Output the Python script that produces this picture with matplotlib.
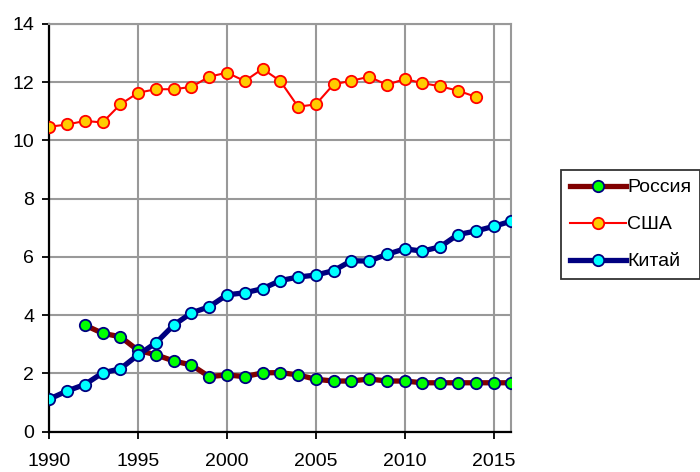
import matplotlib
matplotlib.use("Agg")
import matplotlib.pyplot as plt

plt.rcParams['font.family'] = ['Liberation Sans', 'DejaVu Sans']

years_russia = list(range(1992, 2017))
russia = [3.66, 3.38, 3.26, 2.79, 2.64, 2.43, 2.29, 1.89, 1.95, 1.89, 2.02,
          2.03, 1.95, 1.80, 1.74, 1.74, 1.81, 1.74, 1.74, 1.68, 1.68, 1.68,
          1.68, 1.68, 1.68]

years_usa = list(range(1990, 2015))
usa = [10.47, 10.55, 10.67, 10.62, 11.24, 11.64, 11.76, 11.76, 11.84, 12.19,
       12.33, 12.04, 12.46, 12.04, 11.16, 11.24, 11.93, 12.05, 12.19, 11.91,
       12.11, 11.97, 11.86, 11.71, 11.50]

years_china = list(range(1990, 2017))
china = [1.12, 1.40, 1.62, 2.02, 2.16, 2.64, 3.05, 3.66, 4.08, 4.29, 4.70,
         4.77, 4.91, 5.19, 5.31, 5.38, 5.53, 5.87, 5.86, 6.09, 6.28, 6.20,
         6.35, 6.77, 6.89, 7.05, 7.23]

labels = ['Россия', 'США', 'Китай']
x_ticks = [1990, 1995, 2000, 2005, 2010, 2015]
y_ticks = [0, 2, 4, 6, 8, 10, 12, 14]

fig = plt.figure(figsize=(7.0, 4.72), dpi=100)
ax = fig.add_axes([49.3 / 700, 1 - 431.7 / 472, (511.3 - 49.3) / 700, (431.7 - 24) / 472])

grid_color = '#999999'
ms = 8.2
ax.plot(years_russia, russia, color='#800000', lw=3.8, marker='o', ms=ms,
        mfc='#00FF00', mec='#000080', mew=1.3, label=labels[0], zorder=3)
ax.plot(years_usa, usa, color='#FF0000', lw=1.5, marker='o', ms=ms,
        mfc='#FFCC00', mec='#FF0000', mew=1.3, label=labels[1], zorder=3)
ax.plot(years_china, china, color='#000080', lw=3.8, marker='o', ms=ms,
        mfc='#00FFFF', mec='#000080', mew=1.3, label=labels[2], zorder=4)

ax.set_xlim(1990, 2016)
ax.set_ylim(0, 14)
ax.set_xticks(x_ticks)
ax.set_yticks(y_ticks)
ax.tick_params(axis='both', labelsize=14, direction='out', length=5, width=1.3, color='black')
ax.tick_params(axis='x', pad=10)
ax.tick_params(axis='y', pad=6)
ax.grid(True, color=grid_color, lw=1.5)
ax.set_axisbelow(True)
for side in ('left', 'bottom'):
    ax.spines[side].set_color('black')
    ax.spines[side].set_linewidth(1.6)
for side in ('top', 'right'):
    ax.spines[side].set_color(grid_color)
    ax.spines[side].set_linewidth(1.5)

leg = fig.legend(loc='upper left', bbox_to_anchor=(561 / 700, 1 - 170 / 472),
                 fontsize=14, frameon=True, fancybox=False, edgecolor='black',
                 handlelength=2.9, handletextpad=0.05, borderpad=0.45,
                 labelspacing=1.0, borderaxespad=0)
leg.get_frame().set_linewidth(1.3)

fig.savefig('out.png', dpi=100)
